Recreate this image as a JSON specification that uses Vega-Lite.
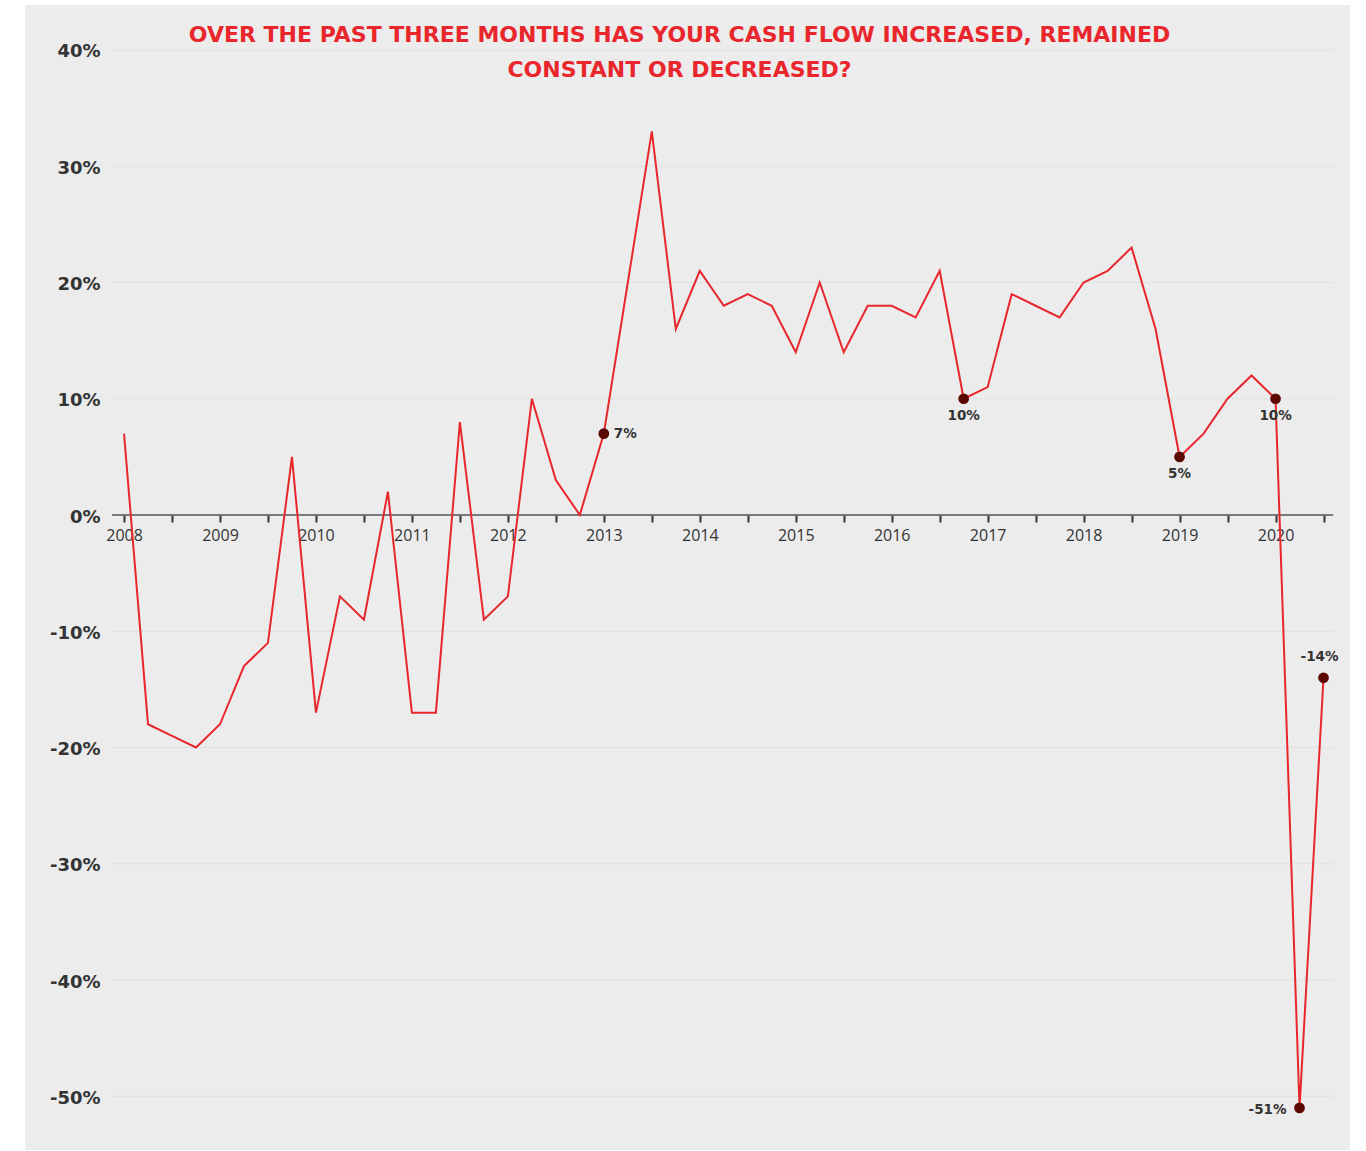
{
  "$schema": "https://vega.github.io/schema/vega-lite/v6.json",
  "width": 1325,
  "height": 1145,
  "autosize": "none",
  "padding": {"left": 25, "top": 5, "right": 16, "bottom": 1},
  "background": "#ffffff",
  "title": {
    "text": ["OVER THE PAST THREE MONTHS HAS YOUR CASH FLOW INCREASED, REMAINED", "CONSTANT OR DECREASED?"],
    "font": "DejaVu Sans",
    "fontSize": 22,
    "fontWeight": "bold",
    "color": "#e8262c",
    "lineHeight": 35,
    "anchor": "middle",
    "frame": "group",
    "orient": "top",
    "offset": -77,
    "dx": -8
  },
  "config": {
    "view": {"fill": "#ececec", "stroke": null},
    "font": "Open Sans"
  },
  "datasets": {
    "cashflow": [
      {"t": 2008.0, "v": 7}, {"t": 2008.25, "v": -18}, {"t": 2008.5, "v": -19}, {"t": 2008.75, "v": -20},
      {"t": 2009.0, "v": -18}, {"t": 2009.25, "v": -13}, {"t": 2009.5, "v": -11}, {"t": 2009.75, "v": 5},
      {"t": 2010.0, "v": -17}, {"t": 2010.25, "v": -7}, {"t": 2010.5, "v": -9}, {"t": 2010.75, "v": 2},
      {"t": 2011.0, "v": -17}, {"t": 2011.25, "v": -17}, {"t": 2011.5, "v": 8}, {"t": 2011.75, "v": -9},
      {"t": 2012.0, "v": -7}, {"t": 2012.25, "v": 10}, {"t": 2012.5, "v": 3}, {"t": 2012.75, "v": 0},
      {"t": 2013.0, "v": 7}, {"t": 2013.25, "v": 20}, {"t": 2013.5, "v": 33}, {"t": 2013.75, "v": 16},
      {"t": 2014.0, "v": 21}, {"t": 2014.25, "v": 18}, {"t": 2014.5, "v": 19}, {"t": 2014.75, "v": 18},
      {"t": 2015.0, "v": 14}, {"t": 2015.25, "v": 20}, {"t": 2015.5, "v": 14}, {"t": 2015.75, "v": 18},
      {"t": 2016.0, "v": 18}, {"t": 2016.25, "v": 17}, {"t": 2016.5, "v": 21}, {"t": 2016.75, "v": 10},
      {"t": 2017.0, "v": 11}, {"t": 2017.25, "v": 19}, {"t": 2017.5, "v": 18}, {"t": 2017.75, "v": 17},
      {"t": 2018.0, "v": 20}, {"t": 2018.25, "v": 21}, {"t": 2018.5, "v": 23}, {"t": 2018.75, "v": 16},
      {"t": 2019.0, "v": 5}, {"t": 2019.25, "v": 7}, {"t": 2019.5, "v": 10}, {"t": 2019.75, "v": 12},
      {"t": 2020.0, "v": 10}, {"t": 2020.25, "v": -51}, {"t": 2020.5, "v": -14}
    ],
    "gridlines": [
      {"g": -50}, {"g": -40}, {"g": -30}, {"g": -20}, {"g": -10},
      {"g": 10}, {"g": 20}, {"g": 30}, {"g": 40}
    ]
  },
  "layer": [
    {
      "data": {"name": "gridlines"},
      "mark": {"type": "rule", "stroke": "#d6d6d6", "strokeWidth": 1, "strokeDash": [1, 1]},
      "encoding": {
        "x": {"datum": 2007.875, "type": "quantitative", "title": null, "scale": {"domain": [2006.968, 2020.776], "nice": false, "zero": false}},
        "x2": {"datum": 2020.6},
        "y": {"field": "g", "type": "quantitative", "title": null, "scale": {"domain": [-54.62, 43.87], "nice": false, "zero": false}}
      }
    },
    {
      "data": {"values": [{"zero": 0}]},
      "mark": {"type": "rule", "stroke": "#555555", "strokeWidth": 1.5},
      "encoding": {
        "x": {"datum": 2007.875, "type": "quantitative", "title": null},
        "x2": {"datum": 2020.6},
        "y": {"field": "zero", "type": "quantitative", "title": null}
      }
    },
    {
      "data": {"name": "cashflow"},
      "mark": {"type": "line", "stroke": "#e8262c", "strokeWidth": 2, "clip": false},
      "encoding": {
        "x": {
          "field": "t", "type": "quantitative",
          "axis": {
            "title": null,
            "orient": "bottom",
            "offset": -635,
            "domain": false,
            "grid": false,
            "values": [2008, 2008.25, 2008.5, 2008.75, 2009, 2009.25, 2009.5, 2009.75, 2010, 2010.25, 2010.5, 2010.75,
                       2011, 2011.25, 2011.5, 2011.75, 2012, 2012.25, 2012.5, 2012.75, 2013, 2013.25, 2013.5, 2013.75,
                       2014, 2014.25, 2014.5, 2014.75, 2015, 2015.25, 2015.5, 2015.75, 2016, 2016.25, 2016.5, 2016.75,
                       2017, 2017.25, 2017.5, 2017.75, 2018, 2018.25, 2018.5, 2018.75, 2019, 2019.25, 2019.5, 2019.75,
                       2020, 2020.25, 2020.5],
            "labelExpr": "datum.value % 1 === 0 ? format(datum.value, 'd') : ''",
            "labelFlush": false,
            "labelOverlap": false,
            "tickSize": 7,
            "tickWidth": 2,
            "tickColor": "#333333",
            "labelPadding": 5,
            "labelFont": "Open Sans",
            "labelFontSize": 16,
            "labelColor": "#333333"
          }
        },
        "y": {
          "field": "v", "type": "quantitative",
          "axis": {
            "title": null,
            "values": [-50, -40, -30, -20, -10, 0, 10, 20, 30, 40],
            "labelExpr": "datum.value + '%'",
            "domain": false,
            "ticks": false,
            "grid": false,
            "labelPadding": -75,
            "labelOffset": 2,
            "labelFont": "DejaVu Sans",
            "labelFontSize": 18,
            "labelFontWeight": "bold",
            "labelColor": "#333333"
          }
        }
      }
    },
    {
      "data": {"name": "cashflow"},
      "transform": [{"filter": {"field": "t", "oneOf": [2013, 2016.75, 2019, 2020, 2020.25, 2020.5]}}],
      "mark": {"type": "point", "filled": true, "fill": "#5a0800", "opacity": 1, "size": 115, "clip": false},
      "encoding": {
        "x": {"field": "t", "type": "quantitative", "title": null},
        "y": {"field": "v", "type": "quantitative", "title": null}
      }
    },
    {
      "data": {"name": "cashflow"},
      "transform": [
        {"filter": {"field": "t", "oneOf": [2013, 2016.75, 2019, 2020, 2020.25, 2020.5]}},
        {"calculate": "datum.v + '%'", "as": "label"}
      ],
      "layer": [
        {
          "transform": [{"filter": {"field": "t", "oneOf": [2013]}}],
          "mark": {"type": "text", "align": "left", "baseline": "middle", "dx": 10, "font": "DejaVu Sans", "fontSize": 13.5, "fontWeight": "bold", "fill": "#333333"},
          "encoding": {
            "x": {"field": "t", "type": "quantitative", "title": null},
            "y": {"field": "v", "type": "quantitative", "title": null},
            "text": {"field": "label", "type": "nominal"}
          }
        },
        {
          "transform": [{"filter": {"field": "t", "oneOf": [2016.75, 2019, 2020]}}],
          "mark": {"type": "text", "align": "center", "baseline": "middle", "dy": 17, "font": "DejaVu Sans", "fontSize": 13.5, "fontWeight": "bold", "fill": "#333333"},
          "encoding": {
            "x": {"field": "t", "type": "quantitative", "title": null},
            "y": {"field": "v", "type": "quantitative", "title": null},
            "text": {"field": "label", "type": "nominal"}
          }
        },
        {
          "transform": [{"filter": {"field": "t", "oneOf": [2020.25]}}],
          "mark": {"type": "text", "align": "right", "baseline": "middle", "dx": -13, "dy": 2, "font": "DejaVu Sans", "fontSize": 13.5, "fontWeight": "bold", "fill": "#333333"},
          "encoding": {
            "x": {"field": "t", "type": "quantitative", "title": null},
            "y": {"field": "v", "type": "quantitative", "title": null},
            "text": {"field": "label", "type": "nominal"}
          }
        },
        {
          "transform": [{"filter": {"field": "t", "oneOf": [2020.5]}}],
          "mark": {"type": "text", "align": "center", "baseline": "middle", "dx": -4, "dy": -21, "font": "DejaVu Sans", "fontSize": 13.5, "fontWeight": "bold", "fill": "#333333"},
          "encoding": {
            "x": {"field": "t", "type": "quantitative", "title": null},
            "y": {"field": "v", "type": "quantitative", "title": null},
            "text": {"field": "label", "type": "nominal"}
          }
        }
      ]
    }
  ]
}
